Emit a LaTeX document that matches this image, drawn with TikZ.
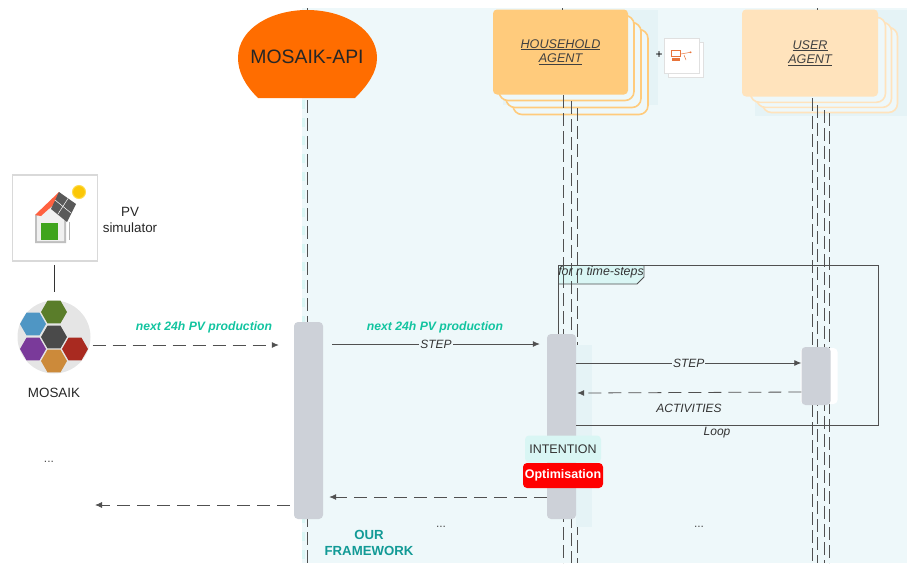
\documentclass[tikz,border=0pt]{standalone}
\usepackage{fontspec}
\setmainfont{Liberation Sans}
\usetikzlibrary{arrows.meta,shapes.geometric}
\newcommand{\fsize}[1]{\fontsize{#1}{#1}\selectfont}
\definecolor{paleblue}{HTML}{EEF8FA}
\definecolor{paleblock}{HTML}{E5F3F6}
\definecolor{barcol}{HTML}{CDD1D8}
\definecolor{apiorange}{HTML}{FF6D00}
\definecolor{hhfront}{HTML}{FFCB7C}
\definecolor{userfront}{HTML}{FFE3BC}
\definecolor{nextgreen}{HTML}{12C4A0}
\definecolor{fwteal}{HTML}{129A96}
\definecolor{aqua}{HTML}{D9F6F4}
\definecolor{linecol}{HTML}{505050}
\definecolor{iconcol}{HTML}{E8743B}
\tikzset{
  agentfront/.style={rounded corners=4pt,minimum width=135pt,minimum height=85pt,inner sep=0pt,align=center,text=black!75,font=\fsize{12.6}\itshape},
  agentback/.style={rounded corners=9pt,draw=#1,line width=1.6pt,fill=paleblue,minimum width=135pt,minimum height=85pt},
  actbar/.style={fill=barcol,rounded corners=4pt,minimum width=29pt,inner sep=0pt},
  lifeline/.style={dash pattern=on 13pt off 5pt,draw=linecol,line width=.7pt},
  msg/.style={-{Latex[length=7pt,width=6pt]},draw=linecol,line width=.8pt},
  msgdash/.style={msg,dash pattern=on 13pt off 7pt},
  lbl/.style={inner sep=1pt,font=\fsize{12}\itshape,text=black!80},
  hexa/.style={regular polygon,regular polygon sides=6,minimum size=26pt,inner sep=0pt,fill=#1},
  plain/.style={inner sep=0pt,font=\fsize{13.4},text=black!85},
  dotlbl/.style={inner sep=0pt,font=\fsize{12},text=black!70},
  nextlbl/.style={inner sep=0pt,font=\fsize{12.2}\bfseries\itshape,text=nextgreen},
  papersheet/.style={fill=white,draw=black!12,line width=.6pt,minimum width=35pt,minimum height=35pt,inner sep=0pt}
}
\definecolor{hexgreen}{HTML}{5A7D2A}
\definecolor{hexblue}{HTML}{4F96C4}
\definecolor{hexdark}{HTML}{4A4A4A}
\definecolor{hexpurple}{HTML}{7A3A9A}
\definecolor{hexred}{HTML}{A92A20}
\definecolor{hexorange}{HTML}{CC8A3A}
\begin{document}
\begin{tikzpicture}[x=1pt,y=-1pt]
    \useasboundingbox (0,0) rectangle (907,563);
    \fill[paleblue] (302,8) rectangle (907,563);
    \fill[paleblock] (503,10) rectangle (658,105);
    \fill[paleblock] (755,10) rectangle (907,116);
    % agent boxes
    \foreach \i/\d in {3/20,2/13,1/6}
      \node[agentback=hhfront] (hhback\i) at (560.5+\d,52+\d) {};
    \node[agentfront,fill=hhfront] (hh) at (560.5,52) {\underline{HOUSEHOLD}\\[2pt]\underline{AGENT}};
    \foreach \i/\d in {3/20,2/14,1/8}
      \node[agentback=userfront] (usback\i) at (810+\d,53+\d*.85) {};
    \node[agentfront,fill=userfront,minimum width=136pt,minimum height=87pt] (us) at (810,53) {\underline{USER}\\[2pt]\underline{AGENT}};
    % mosaik api
    \fill[apiorange] (258,98) .. controls (245,85) and (238,72) .. (238,58)
      .. controls (238,28) and (272,10) .. (307,10)
      .. controls (345,10) and (377,30) .. (377,58)
      .. controls (377,72) and (368,85) .. (355,98) -- cycle;
    \node[inner sep=0pt,font=\fsize{19.4},text=black!85] (api) at (307,57) {MOSAIK-API};
    % loop label behind lifelines
    \fill[aqua] (558,265) -- (644,265) -- (644,277) -- (637,284) -- (558,284) -- cycle;
    % lifelines
    \draw[dash pattern=on 9pt off 9pt,aqua,line width=3pt] (303,100) -- (303,563);
    \foreach \name/\x/\y in {api/307/100,hhA/563/95,hhB/571/101,hhC/577/108,usA/812/98,usB/817/105,usC/824/110,usD/829/113}{
      \coordinate (\name top) at (\x,\y);
      \coordinate (\name bot) at (\x,563);
      \draw[lifeline] (\name top) -- (\name bot);
    }
    \foreach \x in {307,562,817} \draw[linecol,line width=.7pt] (\x,8) -- (\x,10);
    % small sheets
    \node at (659,55) [inner sep=0pt,font=\fsize{12}] (plus) {+};
    \node[papersheet] (sheetB) at (686,60) {};
    \node[papersheet] (sheetA) at (681.5,55.5) {};
    \draw[iconcol,line width=.6pt] (671,50) rectangle (680,56);
    \fill[iconcol] (672,58) rectangle (680,61);
    \draw[-{Latex[length=2pt,width=2pt]},iconcol,line width=.5pt] (681,54) -- (692,52);
    \draw[iconcol,line width=.5pt] (684,55) -- (686,60);
    % activation bars
    \fill[paleblock] (576,345) rectangle (592,527);
    \node[fill=white,rounded corners=4pt,minimum width=37pt,minimum height=56pt,inner sep=0pt] (usbarback) at (819,376) {};
    \node[actbar,minimum height=197pt] (apibar) at (308.5,420.5) {};
    \node[actbar,minimum height=185pt] (hhbar) at (561.5,426.5) {};
    \node[actbar,minimum height=58pt] (usbar) at (816,376) {};
    % loop frame
    \coordinate (loopTL) at (558,265);
    \coordinate (loopTR) at (878,265);
    \coordinate (loopBR) at (878,425);
    \draw[linecol,line width=.8pt] (loopTL |- hhbar.north) -- (loopTL) -- (loopTR) -- (loopBR) -- (hhbar.east |- loopBR);
    \draw[linecol,line width=.8pt] (644,265) -- (644,277) -- (637,284) -- (558,284);
    \node[lbl,font=\fsize{12.4}\itshape] (loophead) at (601,272) {for n time-steps};
    % pv side
    \node[draw=black!15,line width=1.5pt,fill=white,minimum width=85pt,minimum height=86pt,inner sep=0pt] (pvbox) at (55,218) {};
    \fill[gray!50] (35,215) -- (35,243) -- (66,243) -- (66,218) -- (52,204) -- cycle;
    \fill[gray!12] (37,216) -- (37,241) -- (64,241) -- (64,219) -- (52,207) -- cycle;
    \fill[hexgreen!70!green] (41,223) rectangle (58,240);
    \fill[red!65!orange!75] (35,215) -- (59,192) -- (62,197) -- (41,216) -- cycle;
    \fill[black!65] (59,192) -- (76,204) -- (67,222) -- (51,209) -- cycle;
    \draw[white,line width=.5pt] (68,198.5) -- (58,214) (55,200) -- (71,213);
    \draw[gray!60,line width=.8pt] (69,222) -- (69,240);
    \node[circle,fill=yellow!60!orange,draw=orange!40!yellow!70,line width=1pt,minimum size=13pt,inner sep=0pt] (pvsun) at (79,192) {};
    \node[plain,align=center] (pvlabel) at (130,220) {PV\\[2pt]simulator};
    \node[circle,fill=black!10,minimum size=73pt,inner sep=0pt] (mosaik) at (54,337) {};
    \foreach \name/\x/\y/\c in {hexG/54/312/hexgreen,hexB/33/324/hexblue,hexD/54/337/hexdark,hexP/33/349/hexpurple,hexR/75/349/hexred,hexO/54/361/hexorange}
      \node[hexa=\c] (\name) at (\x,\y) {};
    \node[plain] (mosaiklabel) at (54,393) {MOSAIK};
    \draw[black!80,line width=.8pt] ([yshift=-3pt]pvbox.south -| mosaik.north) -- ([yshift=8pt]mosaik.north);
    % messages
    \coordinate (leftend) at (95,505);
    \node[nextlbl] (nextA) at (204,327) {next 24h PV production};
    \node[nextlbl] (nextB) at (435,327) {next 24h PV production};
    \path
    ([xshift=2pt,yshift=-8pt]mosaik.east) edge [msgdash] ([xshift=-15pt,yshift=75.5pt]apibar.west)
    ([xshift=9pt,yshift=76.5pt]apibar.east) edge [msg] node [lbl,fill=paleblue] {STEP} ([xshift=-7pt,yshift=82.5pt]hhbar.west)
    ([yshift=63.5pt]hhbar.east) edge [msg] node [lbl,fill=paleblue] {STEP} ([yshift=13pt]usbar.west)
    ([yshift=-16pt]usbar.west) edge [msgdash] ([xshift=1pt,yshift=33.5pt]hhbar.east)
    ([yshift=-70.5pt]hhbar.west) edge [msgdash] ([xshift=6pt,yshift=-76.5pt]apibar.east)
    ([xshift=-4pt,yshift=-84.5pt]apibar.west) edge [msgdash] (leftend);
    \node[lbl] (activities) at (689,408) {ACTIVITIES};
    \node[lbl] (looplabel) at (717,433) {Loop};
    \node[fill=aqua,rounded corners=4pt,minimum width=76pt,minimum height=27pt,inner sep=0pt,font=\fsize{12.5},text=black!80] (intention) at (563,449) {INTENTION};
    \node[fill=red,rounded corners=4pt,minimum width=80pt,minimum height=25pt,inner sep=0pt,font=\fsize{12.5}\bfseries,text=white] (optim) at (563,475.5) {Optimisation};
    \node[inner sep=0pt,font=\fsize{13.2}\bfseries,text=fwteal,align=center] (framework) at (369,543) {OUR\\[3pt]FRAMEWORK};
    \node[dotlbl] (dotsA) at (49,462) {...};
    \node[dotlbl] (dotsB) at (441,527) {...};
    \node[dotlbl] (dotsC) at (699,527) {...};
\end{tikzpicture}
\end{document}
